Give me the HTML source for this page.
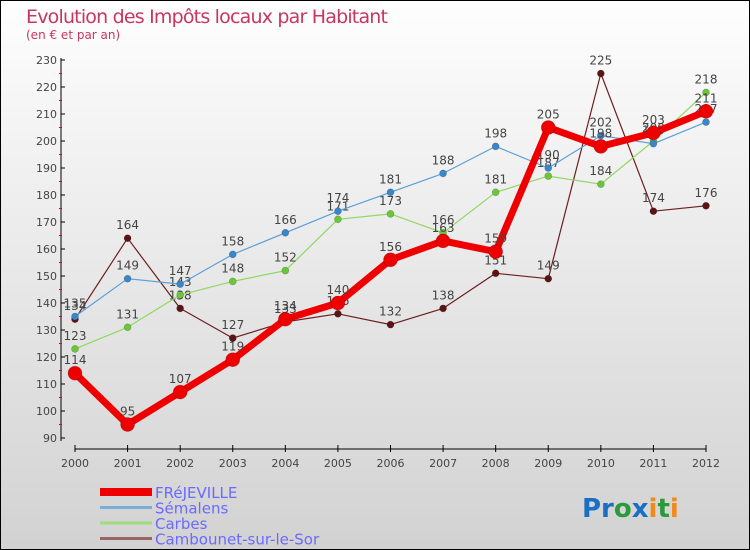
<!DOCTYPE html>
<html><head><meta charset="utf-8"><style>
body{margin:0}
#c{width:750px;height:550px;position:relative;box-sizing:border-box;border:1px solid #000;background:linear-gradient(#fefefe,#d2d2d2);font-family:"DejaVu Sans","Liberation Sans",sans-serif;overflow:hidden}
svg text{font-family:"DejaVu Sans","Liberation Sans",sans-serif}
</style></head><body>
<div id="c">
<svg id="s" width="750" height="550" style="position:absolute;left:-1px;top:-1px">
<text x="26" y="23" font-size="19" fill="#c8365f" textLength="362">Evolution des Impôts locaux par Habitant</text>
<text x="26" y="39" font-size="12" fill="#c8365f">(en € et par an)</text>
<g id="axes"></g><g id="series"></g><g id="legend"></g>
<text x="582" y="517" font-size="26" font-weight="bold"><tspan fill="#1a6fc4">Pr</tspan><tspan fill="#2a9a3a">o</tspan><tspan fill="#1a6fc4">x</tspan><tspan fill="#f08a1a">i</tspan><tspan fill="#2a9a3a">t</tspan><tspan fill="#f08a1a">i</tspan></text>
</svg></div>
<script>
const years=[2000,2001,2002,2003,2004,2005,2006,2007,2008,2009,2010,2011,2012];
const yTicks=[90,100,110,120,130,140,150,160,170,180,190,200,210,220,230];
const seriesNames=["FRéJEVILLE","Sémalens","Carbes","Cambounet-sur-le-Sor"];
const frejeville=[114,95,107,119,134,140,156,163,159,205,198,203,211];
const semalens=[135,149,147,158,166,174,181,188,198,190,202,199,207];
const carbes=[123,131,143,148,152,171,173,166,181,187,184,200,218];
const cambounet=[134,164,138,127,133,136,132,138,151,149,225,174,176];
const NS="http://www.w3.org/2000/svg";
const xs=i=>75+i*(706-75)/(years.length-1);
const ys=v=>438-(v-90)*2.7;
function mk(t,a,p){const e=document.createElementNS(NS,t);for(const k in a)e.setAttribute(k,a[k]);p.appendChild(e);return e;}
const ax=document.getElementById('axes');
let e=mk('line',{x1:61,y1:58,x2:61,y2:441,stroke:'#000'},ax);


e=mk('line',{x1:75,y1:449,x2:706,y2:449,stroke:'#000'},ax);


yTicks.forEach(v=>{
  mk('line',{x1:61,y1:ys(v),x2:65,y2:ys(v),stroke:'#000'},ax);
  if(v<230)mk('line',{x1:59,y1:ys(v+5),x2:62,y2:ys(v+5),stroke:'#e00'},ax);
  const t=mk('text',{x:57,y:ys(v)+4,'font-size':11,fill:'#444','text-anchor':'end'},ax);
  t.textContent=v;
  
  
});
years.forEach((y,i)=>{
  mk('line',{x1:xs(i),y1:445,x2:xs(i),y2:452,stroke:'#000'},ax);
  const t=mk('text',{x:xs(i),y:467,'font-size':11,fill:'#444','text-anchor':'middle'},ax);
  t.textContent=y;
  
  
});
const sg=document.getElementById('series');
const cfg=[[cambounet,'#6e1e1e','#5a1414',1.2,3.5,'cambounet'],[carbes,'#90d860','#6cc63a',1.2,3.5,'carbes'],[semalens,'#5aa0d8','#3a86c8',1.2,3.5,'semalens'],[frejeville,'#ee0000','#ee0000',7,7,'frejeville']];
cfg.forEach(c=>{
  const vals=c[0],col=c[1],dot=c[2],w=c[3],r=c[4],nm=c[5];
  const g=mk('g',{},sg);
  
  
  const p=mk('polyline',{points:vals.map((v,i)=>xs(i)+','+ys(v)).join(' '),fill:'none',stroke:col,'stroke-width':w,'stroke-linejoin':'round'},g);
  
  
  vals.forEach((v,i)=>{
    const d=mk('circle',{cx:xs(i),cy:ys(v),r:r,fill:dot,stroke:'rgba(0,0,0,0.25)','stroke-width':0.6},g);
    
    
    const t=mk('text',{x:xs(i),y:ys(v)-9,'font-size':12,fill:'#444','text-anchor':'middle'},g);
    t.textContent=v;
    
    
  });
});
const lg=document.getElementById('legend');
const lcol=['#ee0000','#7aaed8','#a0dc80','#9a6464'];
const lw=[8,3,3,3];
seriesNames.forEach((n,k)=>{
  const y=492+k*15.5;
  const l=mk('line',{x1:100,y1:y,x2:152,y2:y,stroke:lcol[k],'stroke-width':lw[k]},lg);
  
  
  const t=mk('text',{x:155,y:y+6,'font-size':15,fill:'#6a6aff'},lg);
  t.textContent=n;
  
  
});
</script></body></html>
